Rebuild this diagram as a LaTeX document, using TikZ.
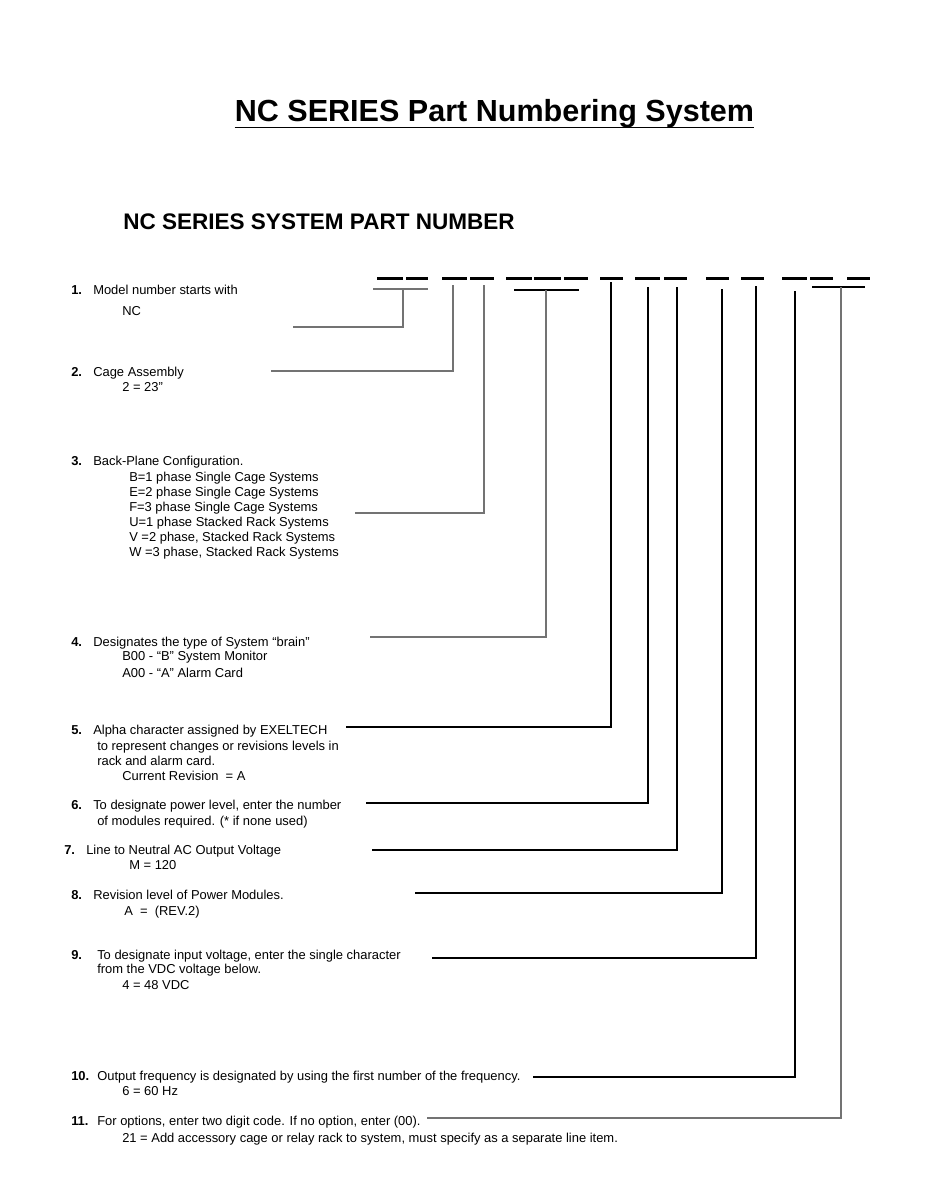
\documentclass[tikz,border=0pt]{standalone}
\usepackage{fontspec}
\setmainfont{Liberation Sans}
\usetikzlibrary{positioning}

\begin{document}
\begin{tikzpicture}[x=0.75pt, y=-0.75pt,
	texto/.style={anchor=base west, inner sep=0pt, align=left,
		font=\fontsize{9.7}{11.2}\selectfont},
	num/.style={texto, font=\fontsize{9.7}{11.2}\selectfont\bfseries},
	raya/.style={line width=2.2pt},
	guia/.style={line width=0.8pt, black},
	guiagris/.style={line width=0.8pt, black!55}]
	\useasboundingbox (0,0) rectangle (934,1192);
	\node[anchor=base, inner sep=0pt, font=\fontsize{22.9}{27}\selectfont\bfseries] (titulo) at (494.5,121) {NC SERIES Part Numbering System};
	\draw[line width=1.1pt] (titulo.south west) -- (titulo.south east);
	\node[anchor=base west, inner sep=0pt, font=\fontsize{16.9}{20}\selectfont\bfseries] (subtitulo) at (123,229) {NC SERIES SYSTEM PART NUMBER};
	\foreach \a/\b in {377/403, 406/428, 442/467, 470/494, 506/532, 534/561, 564/588, 600/623,
		635/660, 664/687, 706/729, 741/764, 782/807, 810/833, 847/870}
		\draw[raya] (\a,278.5) -- (\b,278.5);
	\node[num] (n1) at (71,294) {1.};
	\node[texto] (i1) at (93,294) {Model number starts with};
	\node[texto] (i1a) at (122,315) {NC};
	\node[num] (n2) at (71,376) {2.};
	\node[texto] (i2) at (93,376) {Cage Assembly};
	\node[texto] (i2a) at (122,391) {2 = 23"};
	\node[num] (n3) at (71,465.5) {3.};
	\node[texto] (i3) at (93,465.5) {Back-Plane Configuration.};
	\node[texto] (i3a) at (129,556) {B=1 phase Single Cage Systems\\E=2 phase Single Cage Systems\\F=3 phase Single Cage Systems\\U=1 phase Stacked Rack Systems\\V =2 phase, Stacked Rack Systems\\W =3 phase, Stacked Rack Systems};
	\node[num] (n4) at (71,646) {4.};
	\node[texto] (i4) at (93,646) {Designates the type of System “brain”};
	\node[texto] (i4a) at (122,660) {B00 - “B” System Monitor};
	\node[texto] (i4b) at (122,677) {A00 - “A” Alarm Card};
	\node[num] (n5) at (71,734) {5.};
	\node[texto] (i5) at (93,734) {Alpha character assigned by EXELTECH};
	\node[texto] (i5a) at (97,765) {to represent changes or revisions levels in\\rack and alarm card.};
	\node[texto] (i5b) at (122,780) {Current Revision\ \ = A};
	\node[num] (n6) at (71,809) {6.};
	\node[texto] (i6) at (93,809) {To designate power level, enter the number};
	\node[texto] (i6a) at (97,825) {of modules required. (* if none used)};
	\node[num] (n7) at (64,854.5) {7.};
	\node[texto] (i7) at (86,854.5) {Line to Neutral AC Output Voltage};
	\node[texto] (i7a) at (129,869) {M = 120};
	\node[num] (n8) at (71,899) {8.};
	\node[texto] (i8) at (93,899) {Revision level of Power Modules.};
	\node[texto] (i8a) at (124,915) {A\ \ =\ \ (REV.2)};
	\node[num] (n9) at (71,959) {9.};
	\node[texto] (i9) at (97,959) {To designate input voltage, enter the single character};
	\node[texto] (i9a) at (97,973.5) {from the VDC voltage below.};
	\node[texto] (i9b) at (122,989) {4 = 48 VDC};
	\node[num] (n10) at (71,1080) {10.};
	\node[texto] (i10) at (97,1080) {Output frequency is designated by using the first number of the frequency.};
	\node[texto] (i10a) at (122,1095) {6 = 60 Hz};
	\node[num] (n11) at (71,1125) {11.};
	\node[texto] (i11) at (97,1125) {For options, enter two digit code. If no option, enter (00).};
	\node[texto] (i11a) at (122,1142) {21 = Add accessory cage or relay rack to system, must specify as a separate line item.};
	\coordinate (c1a) at (373,289);
	\coordinate (c1b) at (428,289);
	\coordinate (t1) at (403,289);
	\coordinate (e1) at (293,327);
	\coordinate (t2) at (453,285);
	\coordinate (e2) at (271,371);
	\coordinate (t3) at (484,285);
	\coordinate (e3) at (355,513);
	\coordinate (c4a) at (514,290);
	\coordinate (c4b) at (579,290);
	\coordinate (t4) at (546,290);
	\coordinate (e4) at (370,637);
	\coordinate (t5) at (611,282);
	\coordinate (e5) at (346,727);
	\coordinate (t6) at (648,287);
	\coordinate (e6) at (366,803);
	\coordinate (t7) at (677,287);
	\coordinate (e7) at (372,850);
	\coordinate (t8) at (722,289);
	\coordinate (e8) at (415,893);
	\coordinate (t9) at (756,286);
	\coordinate (e9) at (432,958);
	\coordinate (t10) at (795,291);
	\coordinate (e10) at (533,1077);
	\coordinate (c11a) at (812,287);
	\coordinate (c11b) at (865,287);
	\coordinate (t11) at (841,287);
	\coordinate (e11) at (427,1118);
	\draw[guiagris] (c1a) -- (c1b);
	\draw[guiagris] (t1) |- (e1);
	\draw[guiagris] (t2) |- (e2);
	\draw[guiagris] (t3) |- (e3);
	\draw[guia] (c4a) -- (c4b);
	\draw[guiagris] (t4) |- (e4);
	\draw[guia] (t5) |- (e5);
	\draw[guia] (t6) |- (e6);
	\draw[guia] (t7) |- (e7);
	\draw[guia] (t8) |- (e8);
	\draw[guia] (t9) |- (e9);
	\draw[guia] (t10) |- (e10);
	\draw[guia] (c11a) -- (c11b);
	\draw[guiagris] (t11) |- (e11);
\end{tikzpicture}
\end{document}
